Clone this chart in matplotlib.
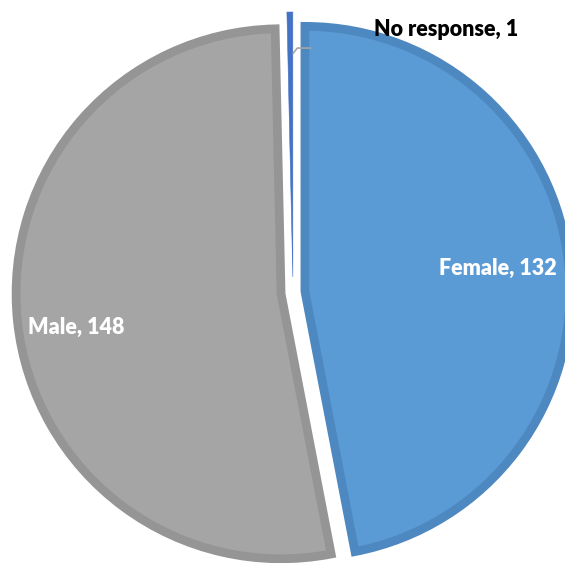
import matplotlib
matplotlib.use("Agg")
import matplotlib.pyplot as plt
import numpy as np

categories = ["Female", "Male", "No response"]
counts = [132, 148, 1]
fill_colors = ["#5B9BD5", "#A5A5A5", "#4472C4"]
edge_colors = ["#4E88C0", "#959595", "#4472C4"]
edge_widths = [6.3, 6.3, 0.4]

W, H = 565, 563
fig = plt.figure(figsize=(W / 100, H / 100), dpi=100)
ax = fig.add_axes([0, 0, 1, 1])

cx, cy = 293, H - 292.5
radius = 265
# offsets are in data units (pixels here)
explode = [12, 12, 15.5]

wedges, _ = ax.pie(
    counts,
    colors=fill_colors,
    startangle=90,
    counterclock=False,
    explode=explode,
    center=(cx, cy),
    radius=radius,
    frame=True,
    wedgeprops=dict(joinstyle="miter"),
)
for w, ec, lw in zip(wedges, edge_colors, edge_widths):
    w.set_edgecolor(ec)
    w.set_linewidth(lw)
ax.set_xlim(0, W)
ax.set_ylim(0, H)
ax.set_aspect("equal")
ax.axis("off")

font = ["Lato", "DejaVu Sans"]
fs = 15.5

# in-slice labels for the two large groups
label_pos = {0: (0.78, np.deg2rad(6.8)), 1: (0.83, np.deg2rad(-171))}
for i, (rf, ang) in label_pos.items():
    x = cx + rf * radius * np.cos(ang)
    y = cy + rf * radius * np.sin(ang)
    ax.text(x, y, f"{categories[i]}, {counts[i]}", color="white",
            fontsize=fs, fontweight="heavy", family=font,
            ha="center", va="center")

# outside label with a short leader for the tiny slice
w = wedges[2]
ox, oy = w.center
px = ox + 0.5
py = oy + 0.845 * radius
ax.text(446, H - 30, f"{categories[2]}, {counts[2]}",
        fontsize=fs, fontweight="heavy", family=font, color="black",
        ha="center", va="center")
ax.plot([px, px + 4, px + 17], [py, py + 5, py + 5], color="#A6A6A6", lw=1.2)

fig.savefig("out.png", dpi=100)
